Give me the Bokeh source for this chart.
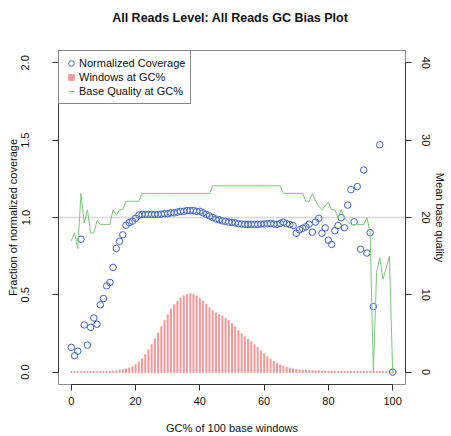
import math
from bokeh.plotting import figure
from bokeh.models import (Range1d, LinearAxis, FixedTicker, Span, Legend,
                          LegendItem, NumeralTickFormatter, ColumnDataSource)
from bokeh.embed import file_html
from bokeh.resources import INLINE

nan = float("nan")

gc = list(range(101))

norm_cov = [
    0.16, 0.106, 0.136, 0.86, 0.305, 0.175, 0.29, 0.35, 0.31, 0.435,
    0.476, 0.558, 0.58, 0.677, 0.80, 0.846, 0.888, 0.95, 0.967, 0.976,
    0.995, 1.015, 1.02, 1.02, 1.02, 1.02, 1.02, 1.02, 1.022, 1.025,
    1.025, 1.03, 1.03, 1.035, 1.04, 1.04, 1.045, 1.045, 1.045, 1.04,
    1.04, 1.03, 1.02, 1.01, 1.0, 0.99, 0.985, 0.978, 0.975, 0.97,
    0.968, 0.965, 0.96, 0.958, 0.956, 0.955, 0.955, 0.956, 0.955, 0.957,
    0.958, 0.96, 0.962, 0.958, 0.955, 0.962, 0.97, 0.96, 0.955, 0.948,
    0.898, 0.92, 0.93, 0.94, 0.957, 0.905, 0.97, 0.995, 0.898, 0.933,
    0.853, 0.826, 0.915, 0.948, 0.999, 0.934, 1.08, 1.18, 0.972, 1.20,
    0.795, 1.307, 0.77, 0.902, 0.424, nan, 1.47, nan, nan, nan,
    0.0,
]

windows = [
    0.001, 0.001, 0.001, 0.001, 0.001, 0.001, 0.001, 0.001, 0.001, 0.002,
    0.002, 0.002, 0.003, 0.004, 0.006, 0.009, 0.013, 0.018, 0.025, 0.033,
    0.046, 0.063, 0.084, 0.110, 0.141, 0.175, 0.212, 0.251, 0.292, 0.331,
    0.368, 0.403, 0.433, 0.457, 0.476, 0.491, 0.499, 0.503, 0.499, 0.489,
    0.474, 0.457, 0.435, 0.414, 0.396, 0.381, 0.370, 0.359, 0.346, 0.331,
    0.312, 0.288, 0.266, 0.245, 0.227, 0.210, 0.193, 0.175, 0.158, 0.136,
    0.117, 0.097, 0.080, 0.067, 0.054, 0.045, 0.037, 0.028, 0.024, 0.019,
    0.015, 0.013, 0.011, 0.009, 0.008, 0.007, 0.006, 0.005, 0.005, 0.004,
    0.004, 0.003, 0.003, 0.003, 0.003, 0.003, 0.003, 0.003, 0.003, 0.003,
    0.003, 0.002, 0.002, 0.002, 0.002, 0.002, 0.002, 0.002, 0.002, 0.002,
    0.002,
]

base_quality = [
    17.0, 18.0, 16.0, 23.1, 19.3, 21.0, 18.0, 18.0, 19.6, 19.1,
    19.1, 19.1, 19.1, 21.0, 20.3, 21.0, 21.0, 22.1, 22.1, 22.1,
    22.1, 22.1, 23.1, 23.1, 23.1, 23.1, 23.1, 23.1, 23.1, 23.1,
    23.1, 23.1, 23.1, 23.1, 23.1, 23.1, 23.1, 23.1, 23.1, 23.1,
    23.1, 23.1, 23.1, 23.1, 24.1, 24.1, 24.1, 24.1, 24.1, 24.1,
    24.1, 24.1, 24.1, 24.1, 24.1, 24.1, 24.1, 24.1, 24.1, 24.1,
    24.1, 24.1, 24.1, 24.1, 24.1, 24.1, 23.1, 23.1, 23.1, 23.1,
    23.1, 23.1, 23.1, 22.1, 22.1, 23.1, 22.1, 21.5, 21.0, 21.5,
    22.0, 21.0, 21.0, 20.0, 21.0, 20.0, 19.5, 19.1, 19.1, 19.1,
    19.1, 19.1, 20.0, 18.0, 0.0, 12.9, 14.8, 12.0, 13.5, 15.0,
    0.0,
]

x_ticks = [0, 20, 40, 60, 80, 100]
y_ticks = [0.0, 0.5, 1.0, 1.5, 2.0]
q_ticks = [0, 10, 20, 30, 40]

title_text = "All Reads Level: All Reads  GC Bias Plot"
x_label = "GC% of 100 base windows"
y_label = "Fraction of normalized coverage"
q_label = "Mean base quality"
legend_labels = ["Normalized Coverage", "Windows at GC%", "Base Quality at GC%"]

BLUE = "#3F63C8"
PINK = "#F09A9A"
GREEN = "#7CC87C"
FONT = "Liberation Sans"

src = ColumnDataSource(dict(gc=gc, cov=norm_cov, win=windows,
                            zero=[0.0] * len(gc), q=base_quality))

X_LO, X_HI = -4, 104

p = figure(width=451, height=436, output_backend="svg", toolbar_location=None,
           x_range=Range1d(X_LO, X_HI), y_range=Range1d(-0.08, 2.08),
           min_border_left=58, min_border_right=46,
           min_border_top=50, min_border_bottom=52,
           background_fill_color="white", border_fill_color="white")
p.extra_y_ranges = {"q": Range1d(-1.6, 41.6)}

# invisible spacer between the plot box and the title:
# a single, fully transparent tick at the box's right edge, with no label
spacer = LinearAxis(ticker=FixedTicker(ticks=[X_HI]), axis_line_color=None,
                    major_tick_out=26, major_tick_in=0,
                    major_tick_line_color="white", major_tick_line_alpha=0.01,
                    minor_tick_line_color=None,
                    major_label_overrides={X_HI: ""},
                    major_label_standoff=0, axis_label_standoff=0)
p.add_layout(spacer, "above")

p.title.text = title_text
p.title.align = "center"
p.title.text_font = FONT
p.title.text_font_size = "12.5px"
p.title.text_font_style = "bold"
p.title.text_color = "#111111"
p.title.standoff = 0

p.outline_line_color = "#8C8C8C"
p.outline_line_width = 1
p.xgrid.visible = False
p.ygrid.visible = False

right = LinearAxis(y_range_name="q")
p.add_layout(right, "right")

for ax in (p.below[0], p.left[0], right):
    ax.axis_line_color = "#333333"
    ax.major_tick_line_color = "#333333"
    ax.major_tick_out = 6
    ax.major_tick_in = 0
    ax.minor_tick_line_color = None
    ax.major_label_text_font = FONT
    ax.major_label_text_font_size = "11px"
    ax.major_label_text_color = "#111111"
    ax.axis_label_text_font = FONT
    ax.axis_label_text_font_size = "11px"
    ax.axis_label_text_font_style = "normal"
    ax.axis_label_text_color = "#111111"

xax = p.below[0]
xax.ticker = FixedTicker(ticks=x_ticks)
xax.bounds = (x_ticks[0], x_ticks[-1])
xax.axis_label = x_label
xax.major_label_standoff = 6
xax.axis_label_standoff = 14

yax = p.left[0]
yax.ticker = FixedTicker(ticks=y_ticks)
yax.bounds = (y_ticks[0], y_ticks[-1])
yax.formatter = NumeralTickFormatter(format="0.0")
yax.major_label_orientation = "vertical"
yax.axis_label = y_label
yax.major_label_standoff = 23
yax.axis_label_standoff = 0

right.ticker = FixedTicker(ticks=q_ticks)
right.bounds = (q_ticks[0], q_ticks[-1])
right.major_label_orientation = "vertical"
right.axis_label = q_label
right.major_label_standoff = 10
right.axis_label_standoff = 1

ref = Span(location=1.0, dimension="width", line_color="#D8D8D8",
           line_width=1.5, level="underlay")
p.add_layout(ref)

p.segment(x0="gc", y0="zero", x1="gc", y1="win", source=src,
          line_color=PINK, line_width=2, line_cap="round")
p.scatter(x="gc", y="cov", source=src, marker="circle", size=6.5,
          fill_color=None, line_color=BLUE, line_width=1)
p.line(x="gc", y="q", source=src, y_range_name="q",
       line_color=GREEN, line_width=1)

# legend-only glyphs (no visible data)
lg_c = p.scatter(x=[nan], y=[nan], marker="circle", fill_color=None,
                 line_color=BLUE, line_width=1)
lg_s = p.scatter(x=[nan], y=[nan], marker="square", fill_color=PINK,
                 line_color=PINK)
lg_d = p.scatter(x=[nan], y=[nan], marker="dash", line_color=GREEN,
                 line_width=1)

legend = Legend(items=[LegendItem(label=legend_labels[0], renderers=[lg_c]),
                       LegendItem(label=legend_labels[1], renderers=[lg_s]),
                       LegendItem(label=legend_labels[2], renderers=[lg_d])],
                location="top_left", margin=0, padding=5, spacing=-1,
                glyph_width=14, glyph_height=14, label_height=14,
                label_standoff=1,
                label_text_font=FONT, label_text_font_size="11px",
                label_text_color="#111111",
                border_line_color="#111111", border_line_width=1,
                background_fill_color="white", background_fill_alpha=1.0)
p.add_layout(legend, "center")

open("out.html", "w").write(file_html(p, INLINE))
